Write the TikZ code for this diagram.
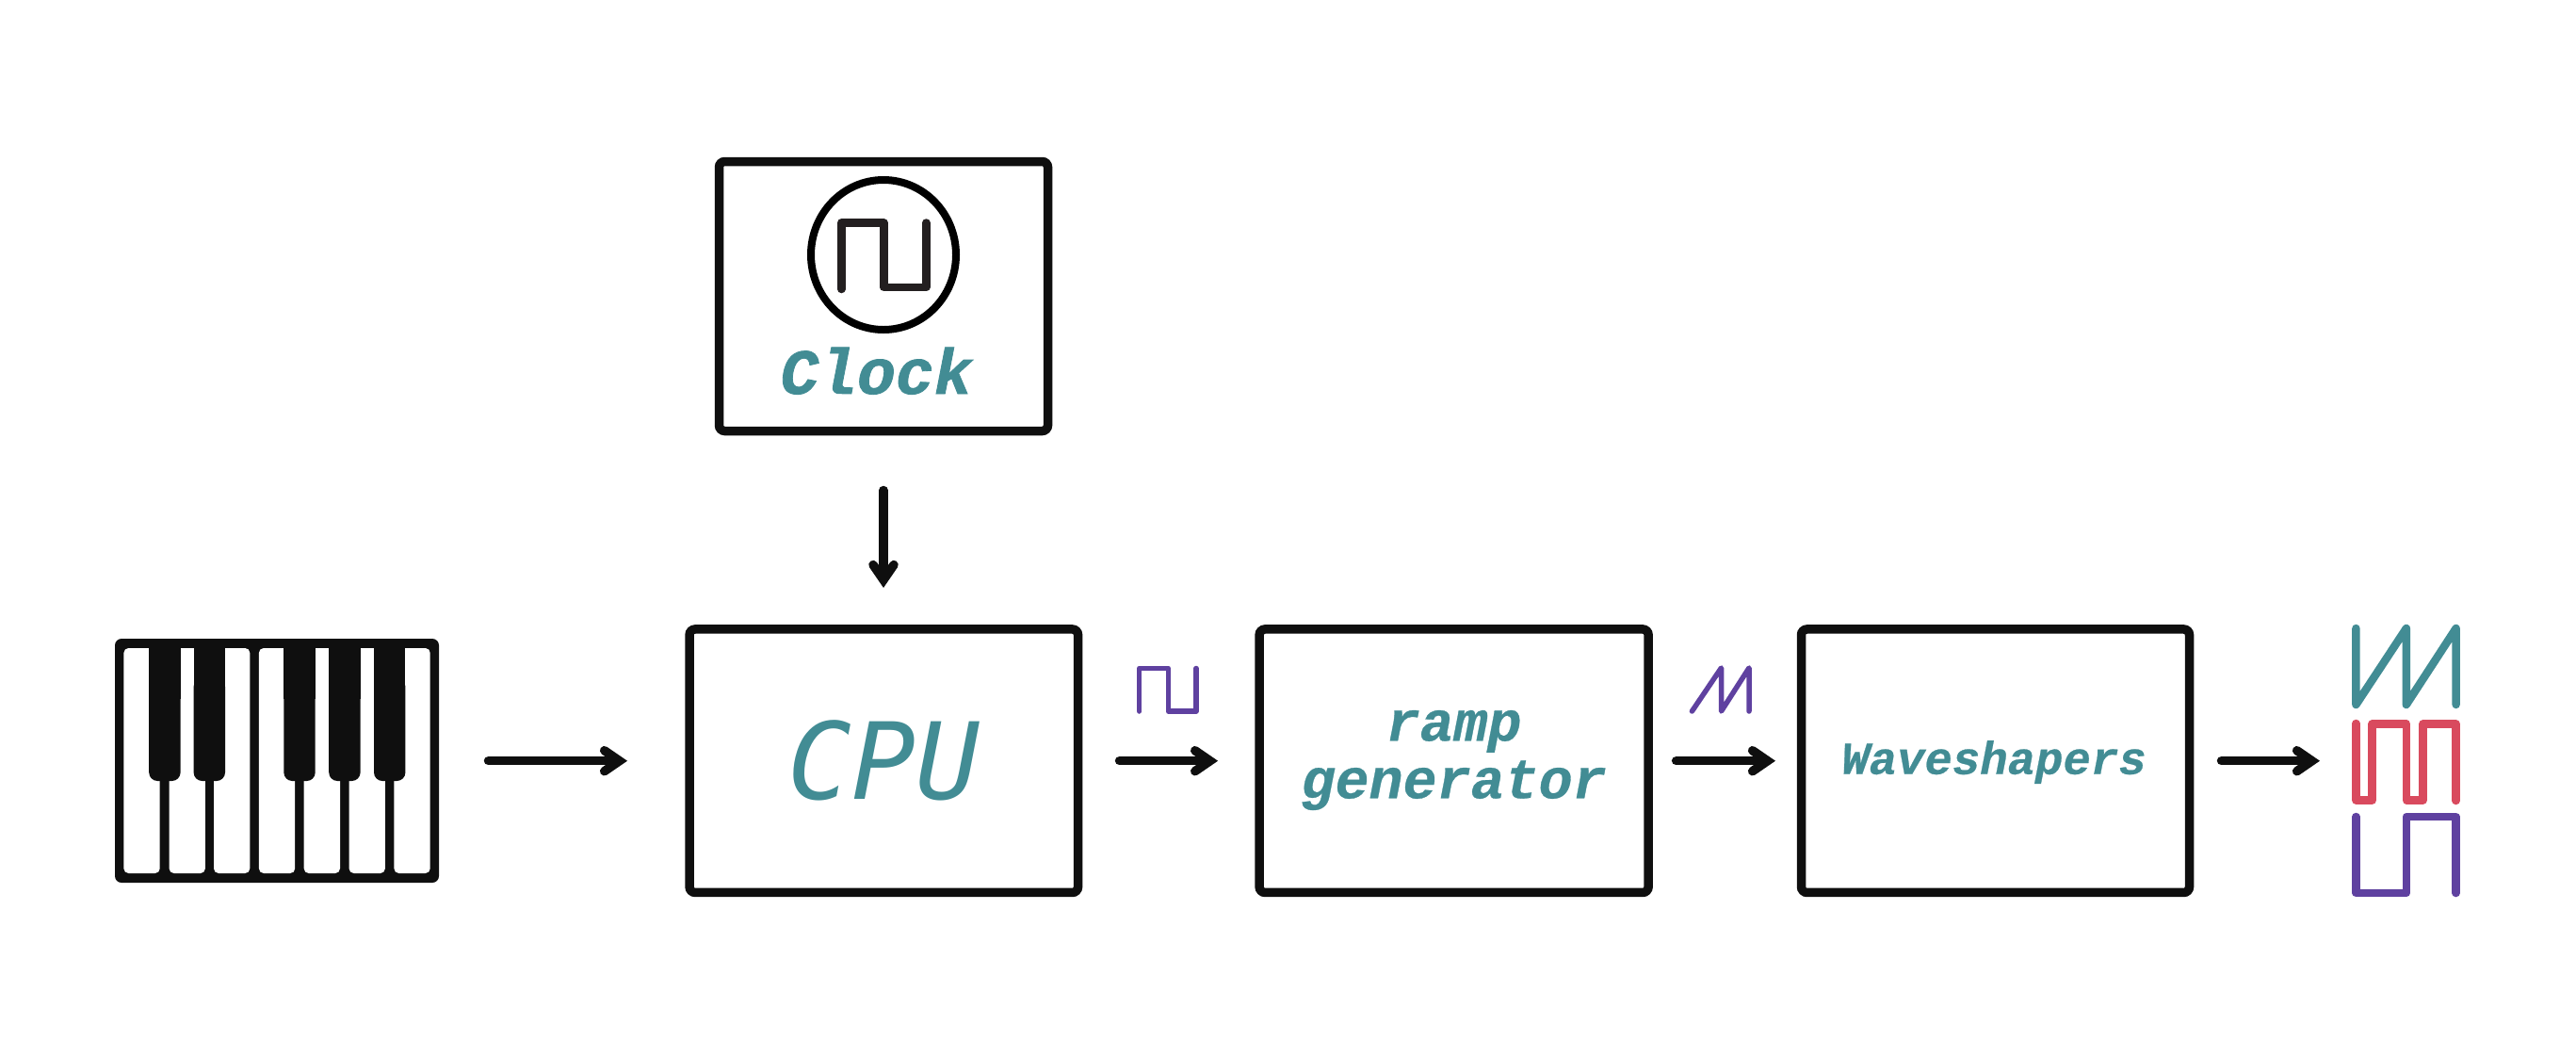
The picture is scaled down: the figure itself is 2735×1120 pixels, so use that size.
\documentclass[tikz,border=0pt]{standalone}
\usepackage{fontspec}
\newfontfamily\heavyfont[FakeBold=1.2]{Liberation Mono Bold Italic}
\newfontfamily\labelfont[FakeBold=0.5]{Liberation Mono Bold Italic}
\newfontfamily\cpufont{DejaVu Sans Mono Oblique}
\usetikzlibrary{arrows.meta,shapes.geometric}
\definecolor{inkblack}{HTML}{0F0F0F}
\definecolor{wavegray}{HTML}{231F20}
\definecolor{teal}{HTML}{428C94}
\definecolor{wavered}{HTML}{D94A5E}
\definecolor{wavepurple}{HTML}{5F41A0}

\begin{document}
\begin{tikzpicture}[x=1pt,y=-1pt]
\tikzset{block/.style={draw=inkblack,line width=9.5pt,rounded corners=6pt,outer sep=0pt,inner sep=0pt}}
\tikzset{label/.style={text=teal,align=center,inner sep=0pt}}
\tikzset{conn/.style={draw=inkblack,line width=9.5pt,line cap=round,-{Straight Barb[length=16pt,width=22pt,line cap=round,line join=miter]}}}
\tikzset{wave/.style={line width=8.5pt,line cap=round,line join=round}}
\tikzset{smallwave/.style={wavepurple,line width=5.5pt,line cap=round,line join=round}}

\useasboundingbox (0,0) rectangle (2735,1120);

% blocks
\node[block,minimum width=349pt,minimum height=286pt] (clock) at (938,314.5) {};
\node[block,minimum width=412.5pt,minimum height=279.5pt] (cpu) at (938.3,807.7) {};
\node[block,minimum width=413pt,minimum height=279.5pt] (ramp) at (1543.6,807.7) {};
\node[block,minimum width=412pt,minimum height=279.5pt] (shapers) at (2118.5,807.7) {};

% texts
\node[label,anchor=base,font=\heavyfont\fontsize{68}{72}\selectfont] (clocktext) at (930.5,418) {Clock};
\node[label,anchor=base,font=\cpufont\fontsize{113}{120}\selectfont] (cputext) at (938.3,848) {CPU};
\node[label,font=\labelfont\fontsize{60}{61}\selectfont] (ramptext) at (1543.6,807) {ramp\\generator};
\node[label,anchor=base,font=\labelfont\fontsize{49}{54}\selectfont] (shaperstext) at (2117,821.7) {Waveshapers};

% clock symbol
\node[draw=black,line width=8pt,ellipse,minimum width=154pt,minimum height=159pt,inner sep=0pt] (dial) at (938,270.5) {};
\draw[wave,wavegray] (893.3,307) -- (893.3,236.5) -- (938.3,236.5) -- (938.3,305) -- (983.3,305) -- (983.3,236.5);

% keyboard
\node[fill=inkblack,rounded corners=7pt,minimum width=344pt,minimum height=259pt,inner sep=0pt,outer sep=0pt] (keys) at (294,807.5) {};
\foreach \k in {131.4,179.6,227,274.9,322.7,370.6,418.4}
  \fill[white,rounded corners=5pt] (\k,688) rectangle +(38.3,239);
\foreach \k in {158.2,205.6,301.3,349.2,397}{
  \fill[inkblack] (\k,682) rectangle +(33.4,60);
  \fill[inkblack,rounded corners=9pt] (\k,720) rectangle +(33.4,109);
}

% arrows
\coordinate (out) at (2463,807.7);
\draw[conn,shorten <=52.5pt,shorten >=66pt] (keys.east |- cpu.west) -- (cpu.west);
\draw[conn,shorten <=63pt,shorten >=44pt] (clock.south) -- (clock.south |- cpu.north);
\draw[conn,shorten <=44pt,shorten >=44pt] (cpu.east) -- (ramp.west);
\draw[conn,shorten <=29.5pt,shorten >=27.5pt] (ramp.east) -- (shapers.west);
\draw[conn,shorten <=34pt] (shapers.east) -- (out);

% little waves over the arrows
\draw[smallwave] (1209.7,755) -- (1209.7,709.5) -- (1240.3,709.5) -- (1240.3,755) -- (1270,755) -- (1270,709.5);
\draw[smallwave] (1796.4,755) -- (1827.5,709) -- (1827.5,755) -- (1857,709) -- (1857,755);

% output waves
\draw[wave,teal] (2501.4,667) -- (2501.4,748) -- (2554.8,667) -- (2554.8,748) -- (2607.6,667) -- (2607.6,748);
\draw[wave,wavered] (2501.4,768) -- (2501.4,849.5) -- (2518.7,849.5) -- (2518.7,768.5) -- (2554.8,768.5) -- (2554.8,849.5) -- (2572.6,849.5) -- (2572.6,768.5) -- (2607.6,768.5) -- (2607.6,850);
\draw[wave,wavepurple] (2501.4,867) -- (2501.4,948) -- (2554.8,948) -- (2554.8,867) -- (2607.6,867) -- (2607.6,948);
\end{tikzpicture}
\end{document}
